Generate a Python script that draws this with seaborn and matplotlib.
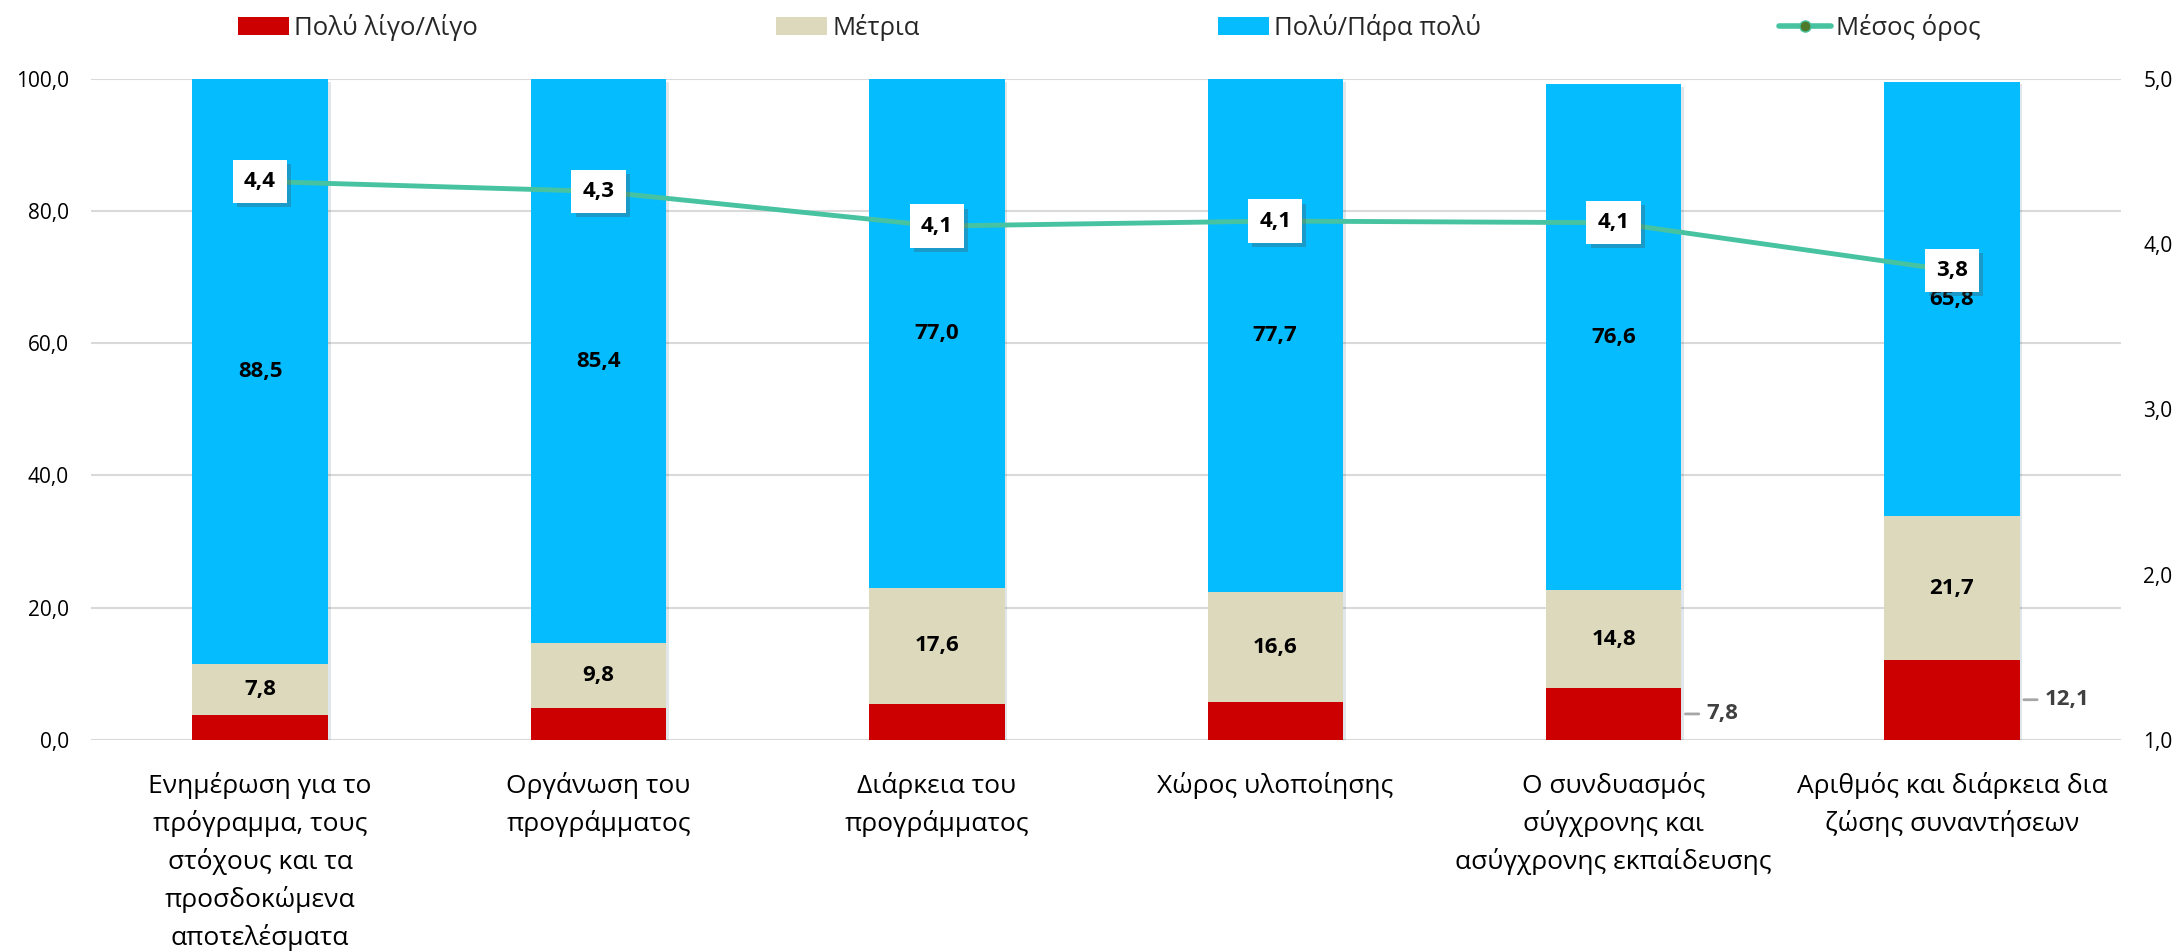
import matplotlib
matplotlib.use("Agg")
import matplotlib.pyplot as plt
import matplotlib.patheffects as pe
from matplotlib.patches import Patch
from matplotlib.lines import Line2D
from matplotlib.ticker import FuncFormatter
import seaborn as sns
import numpy as np
import pandas as pd

# δεδομένα (%)
categories = [
    "Ενημέρωση για το\nπρόγραμμα, τους\nστόχους και τα\nπροσδοκώμενα\nαποτελέσματα",
    "Οργάνωση του\nπρογράμματος",
    "Διάρκεια του\nπρογράμματος",
    "Χώρος υλοποίησης",
    "Ο συνδυασμός\nσύγχρονης και\nασύγχρονης εκπαίδευσης",
    "Αριθμός και διάρκεια δια\nζώσης συναντήσεων",
]
low = [3.7, 4.8, 5.4, 5.7, 7.8, 12.1]        # Πολύ λίγο/Λίγο
medium = [7.8, 9.8, 17.6, 16.6, 14.8, 21.7]  # Μέτρια
high = [88.5, 85.4, 77.0, 77.7, 76.6, 65.8]  # Πολύ/Πάρα πολύ
mean_score = [4.38, 4.32, 4.11, 4.14, 4.13, 3.84]  # Μέσος όρος (1-5)
low_labelled = [False, False, False, False, True, True]

series_names = ["Πολύ λίγο/Λίγο", "Μέτρια", "Πολύ/Πάρα πολύ", "Μέσος όρος"]
c_low, c_med, c_high, c_line = "#CC0000", "#DDD9BC", "#05BCFF", "#47C3A2"

sns.set_theme(style="white")
plt.rcParams["font.family"] = ["Open Sans", "DejaVu Sans"]

df = pd.DataFrame({"cat": categories, "low": low, "medium": medium, "high": high,
                   "mean": mean_score})
df["pos"] = np.arange(len(df))
df["cum_med"] = df["low"] + df["medium"]
df["cum_high"] = df["cum_med"] + df["high"]

fig, ax = plt.subplots(figsize=(21.8, 9.52), dpi=100)
fig.subplots_adjust(left=0.0417, right=0.973, top=0.917, bottom=0.223)

W = 0.4
bar_kw = dict(saturation=1, width=W, ax=ax, edgecolor="none", linewidth=0)
sns.barplot(data=df, x="cat", y="cum_high", color=c_high, **bar_kw)
for p in ax.patches:
    p.set_path_effects([pe.SimplePatchShadow(offset=(2, -2), alpha=0.12), pe.Normal()])
sns.barplot(data=df, x="cat", y="cum_med", color=c_med, **bar_kw)
sns.barplot(data=df, x="cat", y="low", color=c_low, **bar_kw)

ax.set_ylim(0, 100)
ax.set_xlim(-0.5, len(df) - 0.5)
ax.set_yticks(np.arange(0, 101, 20))
ax.yaxis.set_major_formatter(FuncFormatter(lambda v, _: f"{v:.1f}".replace(".", ",")))
ax.yaxis.grid(True, color="#D9D9D9", lw=1.5)
ax.set_axisbelow(True)
for s in ax.spines.values():
    s.set_visible(False)
ax.set_xlabel("")
ax.set_ylabel("")
ax.tick_params(axis="y", length=0, pad=16, labelsize=15, labelcolor="black")
ax.tick_params(axis="x", length=0, pad=23, labelsize=19, labelcolor="black")
for t in ax.get_xticklabels():
    t.set_linespacing(1.53)
    t.set_va("top")

lbl = dict(fontsize=16, fontweight="bold", color="black")
# ετικέτες τιμών
for i, r in df.iterrows():
    ax.text(i, r["low"] + r["medium"] / 2, f"{r['medium']:.1f}".replace(".", ","),
            ha="center", va="center", **lbl)
    ax.text(i, r["cum_med"] + r["high"] / 2, f"{r['high']:.1f}".replace(".", ","),
            ha="center", va="center", **lbl)
    if low_labelled[i]:
        ax.annotate(f"{r['low']:.1f}".replace(".", ","), xy=(i + W / 2, r["low"] / 2),
                    xytext=(18, 0), textcoords="offset points", ha="left", va="center",
                    fontsize=16, fontweight="bold", color="#404040",
                    arrowprops=dict(arrowstyle="-", color="#A6A6A6", lw=2,
                                    shrinkA=3, shrinkB=3))

# μέσος όρος στον δεξί άξονα
ax2 = ax.twinx()
sns.lineplot(data=df, x="pos", y="mean", color=c_line, lw=3.5, ax=ax2, legend=False)
ax2.set_ylim(1, 5)
ax2.set_yticks(np.arange(1, 5.01, 1))
ax2.yaxis.set_major_formatter(FuncFormatter(lambda v, _: f"{v:.1f}".replace(".", ",")))
ax2.tick_params(axis="y", length=0, pad=16, labelsize=15, labelcolor="black")
ax2.set_ylabel("")
ax2.set_xlabel("")
ax2.grid(False)
for s in ax2.spines.values():
    s.set_visible(False)
for i, r in df.iterrows():
    t = ax2.text(r["pos"], r["mean"], f"{r['mean']:.1f}".replace(".", ","),
                 ha="center", va="center", bbox=dict(boxstyle="square,pad=0.5",
                                                     fc="white", ec="none"), **lbl)
    t.get_bbox_patch().set_path_effects(
        [pe.SimplePatchShadow(offset=(3, -3), alpha=0.3), pe.Normal()])

handles = [
    Patch(facecolor=c_low, edgecolor="none"),
    Patch(facecolor=c_med, edgecolor="none"),
    Patch(facecolor=c_high, edgecolor="none"),
    Line2D([], [], color=c_line, lw=4, marker="o", markersize=8,
           markerfacecolor="#4E7A29", markeredgecolor=c_line),
]
fig.legend(handles, series_names, loc="center", bbox_to_anchor=(0.5087, 0.971), ncol=4,
           frameon=False, fontsize=18.5, handlelength=2.0, handleheight=0.7,
           handletextpad=0.2, columnspacing=11.6)

fig.savefig("out.png", dpi=100)
